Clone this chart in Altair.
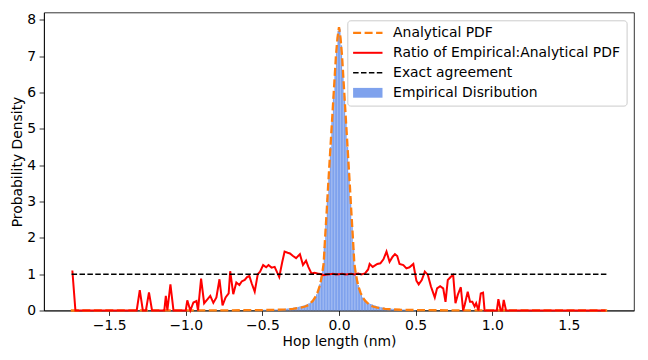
import altair as alt
import numpy as np
import pandas as pd

# ---------------- data ----------------
# Empirical histogram: bins of width 0.01 from -0.50 to 0.50
hist_start = -0.50
hist_width = 0.01
hist_left = [0.018, 0.020, 0.019, 0.021, 0.022, 0.024, 0.023, 0.026, 0.027, 0.030,
             0.032, 0.034, 0.037, 0.040, 0.045, 0.050, 0.054, 0.060, 0.066, 0.072,
             0.078, 0.085, 0.092, 0.100, 0.110, 0.120, 0.130, 0.145, 0.160, 0.180,
             0.200, 0.220, 0.260, 0.300, 0.360, 0.450, 0.560, 0.720, 0.930, 1.200,
             1.750, 2.400, 3.100, 3.800, 4.500, 5.200, 5.900, 6.600, 7.300, 7.700]
hist_right = [7.750, 7.300, 6.600, 5.900, 5.200, 4.500, 3.800, 3.100, 2.400, 1.700,
              1.200, 0.900, 0.700, 0.550, 0.440, 0.360, 0.300, 0.260, 0.220, 0.200,
              0.180, 0.170, 0.150, 0.135, 0.120, 0.110, 0.100, 0.090, 0.082, 0.076,
              0.070, 0.066, 0.060, 0.053, 0.050, 0.046, 0.042, 0.038, 0.034, 0.031,
              0.029, 0.027, 0.025, 0.023, 0.022, 0.020, 0.019, 0.018, 0.017, 0.016]

# Analytical PDF
pdf_x = [-1.75, -1.5, -1.25, -1.0, -0.8, -0.6, -0.5, -0.4, -0.35, -0.3, -0.25, -0.22,
         -0.2, -0.17, -0.15, -0.14, -0.13, -0.12, -0.11, -0.1, -0.09, -0.08, -0.07,
         -0.06, -0.05, -0.04, -0.03, -0.02, -0.01, 0.0,
         0.01, 0.02, 0.03, 0.04, 0.05, 0.06, 0.07, 0.08, 0.09, 0.1, 0.11, 0.12, 0.13,
         0.14, 0.15, 0.17, 0.2, 0.22, 0.25, 0.3, 0.35, 0.4, 0.5, 0.6, 0.8, 1.0, 1.25,
         1.5, 1.75]
pdf_y = [0.0005, 0.0008, 0.0012, 0.002, 0.004, 0.008, 0.012, 0.02, 0.03, 0.045, 0.08, 0.11,
         0.15, 0.27, 0.4, 0.5, 0.62, 0.78, 1.0, 1.3, 2.05, 2.75, 3.5,
         4.2, 4.9, 5.6, 6.3, 7.0, 7.5, 7.8,
         7.5, 7.0, 6.3, 5.6, 4.9, 4.2, 3.5, 2.75, 2.05, 1.3, 1.0, 0.78, 0.62,
         0.5, 0.4, 0.27, 0.15, 0.11, 0.08, 0.045, 0.03, 0.02, 0.012, 0.008, 0.004, 0.002, 0.0012,
         0.0008, 0.0005]

# Ratio of empirical : analytical PDF
ratio_x = [-1.74, -1.72, -1.32, -1.30, -1.28, -1.26, -1.24, -1.22, -1.14, -1.13, -1.12,
           -1.10, -1.08, -1.00, -0.99, -0.97, -0.95, -0.93, -0.92, -0.90, -0.88, -0.86,
           -0.84, -0.82, -0.80, -0.78, -0.76, -0.74, -0.72, -0.71, -0.69, -0.67, -0.65,
           -0.635, -0.615, -0.60, -0.585, -0.57, -0.55, -0.53, -0.515, -0.495, -0.475,
           -0.46, -0.44, -0.42, -0.39, -0.37, -0.355, -0.335, -0.32, -0.30, -0.28, -0.255,
           -0.235, -0.215, -0.20, -0.18, -0.16, -0.14, -0.115, -0.10, -0.08, -0.06, -0.04,
           -0.02, 0.0, 0.02, 0.04, 0.06, 0.08, 0.10, 0.125, 0.145, 0.17, 0.19, 0.20, 0.22,
           0.25, 0.27, 0.29, 0.31, 0.33, 0.35, 0.365, 0.38, 0.395, 0.42, 0.44, 0.46, 0.485,
           0.505, 0.52, 0.54, 0.56, 0.58, 0.60, 0.625, 0.64, 0.66, 0.68, 0.695, 0.71, 0.73,
           0.745, 0.76, 0.775, 0.795, 0.81, 0.82, 0.84, 0.855, 0.87, 0.885, 0.895, 0.91,
           0.925, 0.94, 0.95, 1.03, 1.04, 1.055, 1.065, 1.075, 1.09, 1.74]
ratio_y = [1.1, 0.0, 0.0, 0.56, 0.0, 0.0, 0.5, 0.0, 0.0, 0.4, 0.0,
           0.72, 0.0, 0.0, 0.28, 0.0, 0.22, 0.26, 0.0, 0.88, 0.2, 0.3,
           0.4, 0.21, 0.36, 0.86, 0.14, 0.36, 0.47, 1.08, 0.45, 0.77, 0.7,
           0.8, 0.84, 0.92, 0.95, 0.75, 0.52, 1.0, 1.07, 1.25, 1.19,
           1.25, 1.18, 1.2, 0.92, 1.34, 1.62, 1.59, 1.57, 1.5, 1.44, 1.55,
           1.25, 1.37, 1.2, 1.02, 1.04, 1.02, 1.0, 0.97, 0.99, 1.0, 1.01,
           0.99, 1.0, 1.01, 0.99, 1.0, 1.01, 0.99, 1.02, 0.99, 1.02, 1.13, 1.28, 1.2,
           1.28, 1.3, 1.41, 1.62, 1.34, 1.48, 1.55, 1.5, 1.28, 1.25, 1.16, 1.19, 1.28,
           0.82, 0.72, 0.84, 1.07, 0.98, 0.66, 0.36, 0.61, 0.67, 0.61, 0.24, 0.84, 0.93,
           0.98, 0.2, 0.43, 0.64, 0.0, 0.15, 0.52, 0.24, 0.24, 0.11, 0.2, 0.0,
           0.47, 0.49, 0.0, 0.0, 0.31, 0.0, 0.0, 0.29, 0.0, 0.0]

# Exact agreement line
exact_x = [-1.745, 1.745]
exact_y = [1.0, 1.0]

legend_labels = ["Analytical PDF", "Ratio of Empirical:Analytical PDF",
                 "Exact agreement", "Empirical Disribution"]

x_ticks = [-1.5, -1.0, -0.5, 0.0, 0.5, 1.0, 1.5]
y_ticks = [0, 1, 2, 3, 4, 5, 6, 7, 8]

# ---------------- build tables ----------------
hist_vals = hist_left + hist_right
edges = np.round(hist_start + hist_width * np.arange(len(hist_vals) + 1), 4)
hist_df = pd.DataFrame({"x0": edges[:-1], "x1": edges[1:], "h": hist_vals})
pdf_df = pd.DataFrame({"x": pdf_x, "y": pdf_y})
ratio_df = pd.DataFrame({"x": ratio_x, "y": ratio_y})
exact_df = pd.DataFrame({"x": exact_x, "y": exact_y})

FONT = "DejaVu Sans"
FS = 13.9
HIST_COLOR = "#7fa2ed"
ORANGE = "#ff7f0e"

xscale = alt.Scale(domain=[-1.925, 1.925], nice=False, zero=False)
yscale = alt.Scale(domain=[0, 8.2], nice=False, zero=False)

xaxis = alt.Axis(values=x_ticks, labelExpr="replace(format(datum.value, '.1f'), '-', '\u2212')",
                 grid=False, tickSize=4.9, tickWidth=0.8, tickColor="black",
                 domainColor="black", domainWidth=0.8, labelFont=FONT, labelFontSize=FS,
                 labelColor="black", labelPadding=3.5, labelFlush=False, labelOverlap=False,
                 titleFont=FONT, titleFontSize=FS, titleFontWeight="normal",
                 titleColor="black", titlePadding=1.5)
yaxis = alt.Axis(values=y_ticks, format="d", grid=False, tickSize=4.9, tickWidth=0.8,
                 tickColor="black", domainColor="black", domainWidth=0.8, labelFont=FONT,
                 labelFontSize=FS, labelColor="black", labelPadding=3.5, labelFlush=False,
                 labelOverlap=False, titleFont=FONT, titleFontSize=FS,
                 titleFontWeight="normal", titleColor="black", titlePadding=2)

XT = "Hop length (nm)"
YT = "Probability Density"


def xenc(field):
    return alt.X(field, scale=xscale, axis=xaxis, title=XT)


def yenc(field):
    return alt.Y(field, scale=yscale, axis=yaxis, title=YT)


hist = alt.Chart(hist_df).mark_rect(color=HIST_COLOR).encode(
    x=xenc("x0:Q"),
    x2="x1:Q",
    y=yenc("h:Q"),
    y2=alt.datum(0),
)

pdf_line = alt.Chart(pdf_df).mark_line(color=ORANGE, strokeWidth=2.3, strokeDash=[8, 3.5]).encode(
    x=xenc("x:Q"), y=yenc("y:Q"))

ratio_line = alt.Chart(ratio_df).mark_line(color="red", strokeWidth=2).encode(
    x=xenc("x:Q"), y=yenc("y:Q"))

exact_line = alt.Chart(exact_df).mark_line(color="black", strokeWidth=1.5, strokeDash=[5.5, 2.4]).encode(
    x=xenc("x:Q"), y=yenc("y:Q"))

# ---------------- legend (drawn in pixel space) ----------------
one = pd.DataFrame({"k": [0]})
row_y = [20.3, 40.3, 60.3, 80.3]
sym_x0, sym_x1, txt_x = 309.1, 338.5, 349.1

leg = [
    alt.Chart(one).mark_rect(fill="white", fillOpacity=0.8, stroke="#cccccc",
                             strokeWidth=1, cornerRadius=3).encode(
        x=alt.value(303.8), x2=alt.value(583.1), y=alt.value(8.3), y2=alt.value(93.6)),
    alt.Chart(one).mark_rule(color=ORANGE, strokeWidth=2.3, strokeDash=[8, 3.5]).encode(
        x=alt.value(sym_x0), x2=alt.value(sym_x1), y=alt.value(row_y[0])),
    alt.Chart(one).mark_rule(color="red", strokeWidth=2).encode(
        x=alt.value(sym_x0), x2=alt.value(sym_x1), y=alt.value(row_y[1])),
    alt.Chart(one).mark_rule(color="black", strokeWidth=1.5, strokeDash=[5.5, 2.4]).encode(
        x=alt.value(sym_x0), x2=alt.value(sym_x1), y=alt.value(row_y[2])),
    alt.Chart(one).mark_rect(color=HIST_COLOR).encode(
        x=alt.value(sym_x0), x2=alt.value(sym_x1), y=alt.value(row_y[3] - 4.9),
        y2=alt.value(row_y[3] + 4.9)),
]
for lab, ry in zip(legend_labels, row_y):
    leg.append(alt.Chart(one).mark_text(align="left", baseline="middle", font=FONT,
                                        fontSize=FS, color="black", text=lab).encode(
        x=alt.value(txt_x), y=alt.value(ry)))

chart = alt.layer(hist, pdf_line, ratio_line, exact_line, *leg).properties(
    width=590, height=298,
    autosize=alt.AutoSizeParams(type="none"),
    padding={"left": 36, "top": 4.5, "right": 6, "bottom": 50},
    background="white",
).configure_view(stroke="black", strokeWidth=0.8)

chart.save("out.html", embed_options={"renderer": "svg", "actions": False})
